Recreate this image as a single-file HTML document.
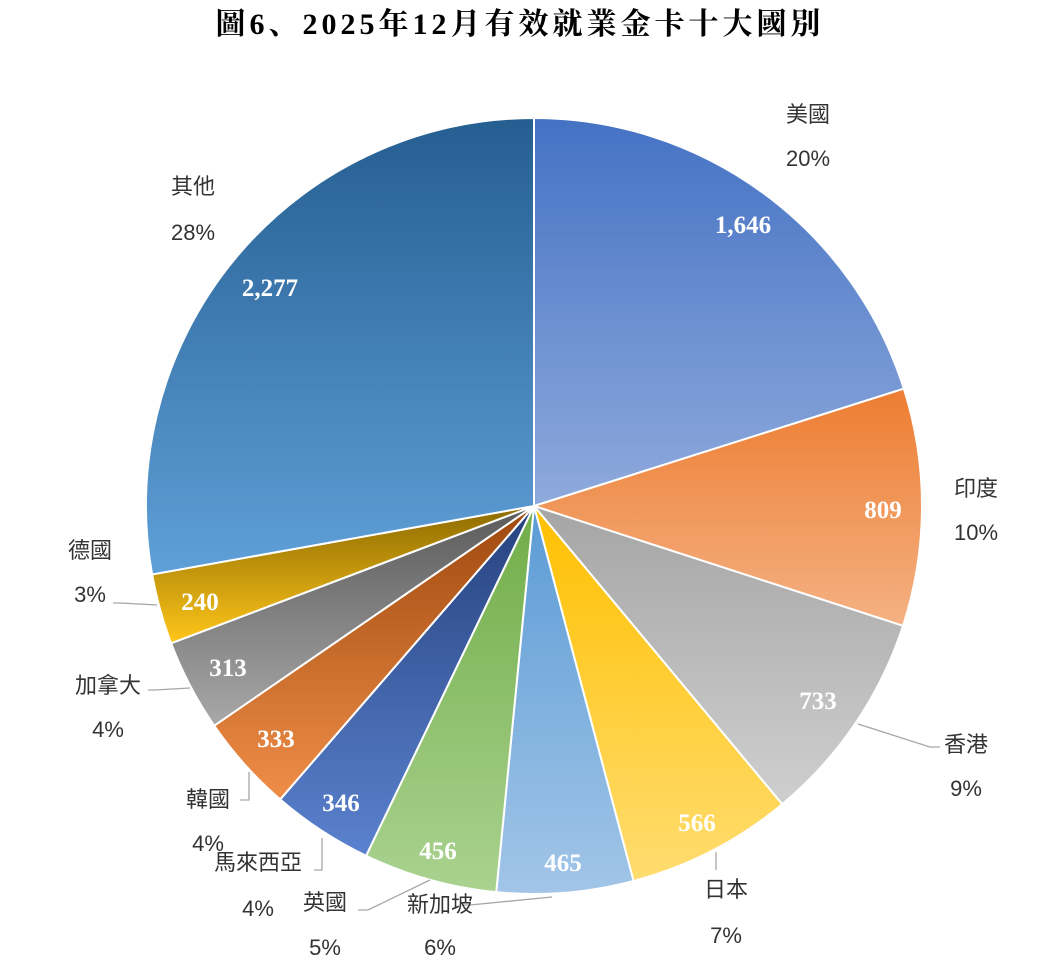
<!DOCTYPE html>
<html><head><meta charset="utf-8">
<style>
html,body{margin:0;padding:0;background:#fff;}
svg{display:block;}
.t{font-family:"Liberation Serif","Noto Serif CJK SC",serif;font-weight:bold;}
.l{font-family:"Liberation Sans","Noto Sans CJK TC",sans-serif;font-size:22px;fill:#333;}
.v{font-family:"Liberation Serif",serif;font-weight:bold;font-size:25px;fill:#fff;}
</style></head><body>
<svg id="s" width="1052" height="978" viewBox="0 0 1052 978" xmlns="http://www.w3.org/2000/svg">
<defs>
<linearGradient id="g0" x1="0" y1="0" x2="0" y2="1"><stop offset="0" stop-color="#4472C4"/><stop offset="1" stop-color="#8FAADC"/></linearGradient>
<linearGradient id="g1" x1="0" y1="0" x2="0" y2="1"><stop offset="0" stop-color="#ED7D31"/><stop offset="1" stop-color="#F4B183"/></linearGradient>
<linearGradient id="g2" x1="0" y1="0" x2="0" y2="1"><stop offset="0" stop-color="#A5A5A5"/><stop offset="1" stop-color="#CFCFCF"/></linearGradient>
<linearGradient id="g3" x1="0" y1="0" x2="0" y2="1"><stop offset="0" stop-color="#FFC000"/><stop offset="1" stop-color="#FFDC70"/></linearGradient>
<linearGradient id="g4" x1="0" y1="0" x2="0" y2="1"><stop offset="0" stop-color="#5B9BD5"/><stop offset="1" stop-color="#A2C5E8"/></linearGradient>
<linearGradient id="g5" x1="0" y1="0" x2="0" y2="1"><stop offset="0" stop-color="#70AD47"/><stop offset="1" stop-color="#AAD290"/></linearGradient>
<linearGradient id="g6" x1="0" y1="0" x2="0" y2="1"><stop offset="0" stop-color="#26427E"/><stop offset="1" stop-color="#5B82CF"/></linearGradient>
<linearGradient id="g7" x1="0" y1="0" x2="0" y2="1"><stop offset="0" stop-color="#9E480E"/><stop offset="1" stop-color="#F08E48"/></linearGradient>
<linearGradient id="g8" x1="0" y1="0" x2="0" y2="1"><stop offset="0" stop-color="#5A5A5A"/><stop offset="1" stop-color="#A8A8A8"/></linearGradient>
<linearGradient id="g9" x1="0" y1="0" x2="0" y2="1"><stop offset="0" stop-color="#8C6A00"/><stop offset="1" stop-color="#FFC61A"/></linearGradient>
<linearGradient id="g10" x1="0" y1="0" x2="0" y2="1"><stop offset="0" stop-color="#255E91"/><stop offset="1" stop-color="#5FA0D8"/></linearGradient>
</defs>
<text class="t" x="520" y="34" font-size="30" letter-spacing="4" text-anchor="middle" fill="#000">圖6、2025年12月有效就業金卡十大國別</text>
<g id="pie"></g>
<g stroke="#A6A6A6" stroke-width="1.3" fill="none">
<polyline points="858,724 930,747 940,747"/>
<polyline points="716,852 716,870"/>
<polyline points="552,897 470,905 462,905"/>
<polyline points="430,880 368,910 358,910"/>
<polyline points="322,838 322,870 314,870"/>
<polyline points="249,772 249,800 240,800"/>
<polyline points="190,688 155,690 148,690"/>
<polyline points="157,605 120,603 113,603"/>
</g>
<g class="l">
<text x="808" y="122" text-anchor="middle">美國</text><text x="808" y="166" text-anchor="middle">20%</text>
<text x="976" y="496" text-anchor="middle">印度</text><text x="976" y="540" text-anchor="middle">10%</text>
<text x="966" y="752" text-anchor="middle">香港</text><text x="966" y="796" text-anchor="middle">9%</text>
<text x="726" y="897" text-anchor="middle">日本</text><text x="726" y="943" text-anchor="middle">7%</text>
<text x="440" y="912" text-anchor="middle">新加坡</text><text x="440" y="955" text-anchor="middle">6%</text>
<text x="325" y="910" text-anchor="middle">英國</text><text x="325" y="955" text-anchor="middle">5%</text>
<text x="258" y="870" text-anchor="middle">馬來西亞</text><text x="258" y="916" text-anchor="middle">4%</text>
<text x="208" y="807" text-anchor="middle">韓國</text><text x="208" y="851" text-anchor="middle">4%</text>
<text x="108" y="693" text-anchor="middle">加拿大</text><text x="108" y="737" text-anchor="middle">4%</text>
<text x="90" y="558" text-anchor="middle">德國</text><text x="90" y="602" text-anchor="middle">3%</text>
<text x="193" y="194" text-anchor="middle">其他</text><text x="193" y="240" text-anchor="middle">28%</text>
</g>
<g class="v" text-anchor="middle">
<text x="743" y="233">1,646</text>
<text x="883" y="518">809</text>
<text x="818" y="709">733</text>
<text x="697" y="831">566</text>
<text x="563" y="871">465</text>
<text x="438" y="859">456</text>
<text x="341" y="811">346</text>
<text x="276" y="747">333</text>
<text x="228" y="676">313</text>
<text x="200" y="610">240</text>
<text x="270" y="296">2,277</text>
</g>
</svg>
<script>
var v=[1646,809,733,566,465,456,346,333,313,240,2277],T=0;v.forEach(function(x){T+=x});
var cx=534,cy=506,r=388,a=0,g=document.getElementById('pie'),h='';
v.forEach(function(x,i){var a2=a+x/T*2*Math.PI;
var x1=cx+r*Math.sin(a),y1=cy-r*Math.cos(a),x2=cx+r*Math.sin(a2),y2=cy-r*Math.cos(a2);
h+='<path d="M'+cx+','+cy+'L'+x1.toFixed(2)+','+y1.toFixed(2)+'A'+r+','+r+' 0 '+((a2-a)>Math.PI?1:0)+' 1 '+x2.toFixed(2)+','+y2.toFixed(2)+'Z" fill="url(#g'+i+')" stroke="#fff" stroke-width="2"/>';a=a2;});
g.innerHTML=h;
</script>
</body></html>
